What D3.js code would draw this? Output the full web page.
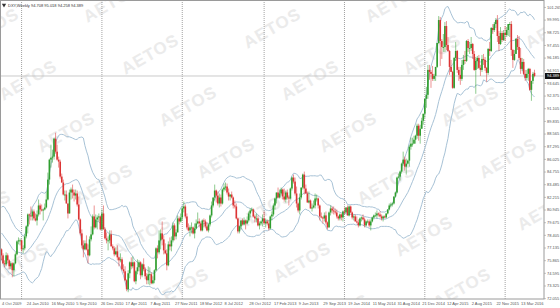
<!DOCTYPE html>
<html>
<head>
<meta charset="utf-8">
<script src="https://cdn.jsdelivr.net/npm/d3@7"></script>
<style>
  html, body { margin: 0; padding: 0; background: #fff; }
  svg { display: block; font-family: "Liberation Sans Narrow", "Liberation Sans", "DejaVu Sans", sans-serif; }
</style>
</head>
<body>
<div class="chart"></div>
<script>
// DATA ------------------------------

const symbolName = "DXY,Weekly"
const lastQuote = [94.708, 95.018, 94.258, 94.389]

// weekly bars [open, high, low, close], one array per year
// (warmup = weeks before the first visible bar, needed for the bands)
const warmup2009 = [
  [80.6,80.9,79.4,79.5],[79.5,80.4,78.3,80.2],[80.2,80.7,79.6,80.3],[80.3,80.9,79.7,80.2],
  [80.2,80.8,79.9,80.0],[80.0,80.6,79.6,80.4],[80.4,80.7,79.6,79.9],[79.9,80.2,78.9,79.1],
  [79.1,79.4,78.5,78.9],[78.9,79.5,78.4,78.8],[78.8,79.0,77.9,78.6],[78.6,79.2,78.2,78.5],
  [78.5,79.1,78.2,78.6],[78.6,78.9,77.9,78.2],[78.2,78.9,77.6,77.7],[77.7,77.8,76.9,77.0],
  [77.0,77.1,76.3,76.7],[76.7,77.4,76.1,76.9],[76.9,77.3,76.6,77.0]
]
const bars2009 = [
  [77.0,77.1,75.9,76.4],[76.4,76.6,75.5,75.6],[75.6,75.9,75.2,75.5],[75.5,76.7,75.3,76.4],
  [76.4,76.6,75.6,75.9],[75.9,76.0,75.0,75.3],[75.3,75.8,75.0,75.6],[75.6,75.7,74.2,74.9],
  [74.9,75.7,74.3,75.6],[75.6,76.7,75.5,76.5],[76.5,77.9,76.4,77.8],[77.8,78.2,77.5,77.9],
  [77.9,78.1,77.4,77.9]
]
const bars2010 = [
  [77.9,78.0,76.8,77.0],[77.0,77.4,76.6,77.1],[77.1,78.5,76.9,78.3],[78.3,79.4,78.1,79.3],
  [79.3,80.6,78.6,80.5],[80.5,80.6,79.5,80.4],[80.4,81.3,79.9,80.3],[80.3,81.0,79.9,80.8],
  [80.8,81.0,79.9,80.1],[80.1,80.6,79.8,79.9],[79.9,80.9,79.4,80.5],[80.5,82.0,80.3,81.4],
  [81.4,81.6,80.5,81.0],[81.0,81.5,80.8,80.9],[80.9,81.1,79.9,81.0],[81.0,81.6,80.9,81.2],
  [81.2,82.8,81.1,82.0],[82.0,84.7,81.9,84.0],[84.0,86.1,83.5,86.0],[86.0,87.5,85.2,86.2],
  [86.2,87.0,85.7,86.3],[86.3,88.2,86.0,88.1],[88.1,88.7,86.6,86.8],[86.8,87.5,85.9,86.0],
  [86.0,86.3,85.2,85.8],[85.8,86.0,84.1,84.3],[84.3,84.6,83.7,83.7],[83.7,84.0,82.4,82.5],
  [82.5,82.9,81.9,82.5],[82.5,82.9,81.6,81.6],[81.6,81.6,80.1,80.6],[80.6,83.0,80.6,82.7],
  [82.7,83.2,82.0,83.0],[83.0,83.5,82.1,82.7],[82.7,83.0,81.8,82.4],[82.4,83.0,82.0,82.6],
  [82.6,82.9,81.3,81.5],[81.5,82.3,79.9,80.0],[80.0,80.1,78.4,78.6],[78.6,79.0,77.1,77.4],
  [77.4,77.9,76.2,77.0],[77.0,77.9,76.9,77.6],[77.6,78.4,76.9,77.0],[77.0,77.5,75.6,76.4],
  [76.4,78.3,76.3,78.0],[78.0,79.3,77.8,78.5],[78.5,80.5,78.4,80.3],[80.3,81.4,79.0,79.2],
  [79.2,80.5,79.1,80.0],[80.0,80.4,79.0,80.2],[80.2,80.6,79.8,80.3],[80.3,80.4,78.9,79.0]
]
const bars2011 = [
  [79.0,81.0,78.9,80.6],[80.6,81.4,79.0,79.0],[79.0,79.2,78.0,78.1],[78.1,78.7,77.6,77.9],
  [77.9,78.3,76.9,77.9],[77.9,78.9,77.6,78.5],[78.5,78.9,77.3,77.3],[77.3,77.5,76.9,77.1],
  [77.1,77.3,76.3,76.5],[76.5,77.2,76.4,76.8],[76.8,77.4,75.9,76.2],[76.2,76.3,75.3,75.9],
  [75.9,76.6,75.7,76.0],[76.0,76.2,74.9,75.0],[75.0,75.5,74.6,74.8],[74.8,75.3,73.8,73.9],
  [73.9,74.0,72.8,73.0],[73.0,74.9,72.7,74.6],[74.6,75.8,74.1,75.7],[75.7,76.2,75.0,75.3],
  [75.3,76.3,75.1,75.7],[75.7,75.8,73.7,73.8],[73.8,74.9,73.5,74.8],[74.8,76.0,74.5,75.2],
  [75.2,75.9,74.8,75.7],[75.7,75.8,74.0,74.4],[74.4,75.6,74.2,75.5],[75.5,76.1,74.8,75.0],
  [75.0,75.2,74.0,74.3],[74.3,74.6,73.5,73.9],[73.9,75.3,73.5,74.5],[74.5,75.2,73.4,74.5],
  [74.5,74.7,73.5,73.6],[73.6,74.3,73.5,73.9],[73.9,75.0,73.6,74.9],[74.9,77.2,74.8,77.1],
  [77.1,77.4,76.1,76.7],[76.7,78.9,76.5,77.9],[77.9,79.0,77.0,78.6],[78.6,79.8,77.4,78.0],
  [78.0,78.4,76.5,76.9],[76.9,77.6,76.5,76.6],[76.6,77.0,74.9,75.4],[75.4,77.8,75.3,77.5],
  [77.5,78.2,76.9,77.3],[77.3,78.3,76.8,77.9],[77.9,79.7,77.7,79.4],[79.4,79.6,77.9,78.3],
  [78.3,79.0,78.0,78.7],[78.7,80.4,78.7,80.1],[80.1,80.3,79.5,79.8],[79.8,80.6,79.7,80.2]
]
const bars2012 = [
  [80.2,81.3,79.9,81.1],[81.1,81.8,80.7,81.3],[81.3,81.5,80.1,80.3],[80.3,80.6,79.0,79.2],
  [79.2,79.6,78.8,78.9],[78.9,79.4,78.3,79.2],[79.2,79.7,78.6,79.2],[79.2,79.3,78.5,78.6],
  [78.6,79.6,78.1,79.1],[79.1,80.0,79.0,79.6],[79.6,80.7,79.5,79.8],[79.8,80.1,79.2,79.6],
  [79.6,79.8,78.8,78.9],[78.9,80.0,78.8,79.9],[79.9,80.1,79.2,79.8],[79.8,80.0,79.1,79.3],
  [79.3,79.7,78.8,78.9],[78.9,79.6,78.7,79.5],[79.5,80.5,79.3,80.4],[80.4,81.8,80.2,81.4],
  [81.4,82.2,81.2,82.2],[82.2,83.5,81.9,82.9],[82.9,83.0,81.7,82.4],[82.4,82.8,81.4,81.6],
  [81.6,82.6,81.2,82.2],[82.2,82.5,81.3,81.6],[81.6,83.1,81.5,83.0],[83.0,83.6,82.8,83.2],
  [83.2,83.7,82.9,83.3],[83.3,83.6,82.5,82.7],[82.7,83.1,81.9,82.3],[82.3,82.5,81.9,82.5],
  [82.5,82.8,82.1,82.2],[82.2,82.3,81.1,81.4],[81.4,81.9,81.1,81.3],[81.3,81.6,80.0,80.1],
  [80.1,80.2,78.6,78.8],[78.8,79.4,78.6,79.3],[79.3,79.9,79.0,79.9],[79.9,80.1,79.4,79.5],
  [79.5,80.2,79.4,79.9],[79.9,80.0,79.0,79.6],[79.6,80.3,79.5,79.9],[79.9,80.8,79.7,80.6],
  [80.6,81.1,80.2,80.9],[80.9,81.2,80.8,81.0],[81.0,81.1,80.2,80.3],[80.3,80.4,79.7,80.1],
  [80.1,80.6,79.7,80.1],[80.1,80.4,79.3,79.4],[79.4,79.8,79.0,79.6],[79.6,79.9,79.4,79.8],
  [79.8,80.5,79.3,80.1]
]
const bars2013 = [
  [80.1,80.8,79.6,79.6],[79.6,80.1,79.2,79.8],[79.8,80.0,79.4,79.6],[79.6,79.9,78.9,79.1],
  [79.1,80.4,79.0,80.3],[80.3,80.8,79.9,80.5],[80.5,81.6,80.3,81.4],[81.4,82.2,81.0,82.1],
  [82.1,82.7,81.6,82.7],[82.7,83.2,82.1,82.2],[82.2,83.0,82.1,82.6],[82.6,83.2,82.4,83.0],
  [83.0,83.1,82.0,82.3],[82.3,83.1,81.8,82.0],[82.0,82.9,81.7,82.7],[82.7,83.0,82.0,82.2],
  [82.2,82.4,81.4,82.1],[82.1,83.2,82.0,83.1],[83.1,84.3,82.9,84.2],[84.2,84.5,83.6,83.8],
  [83.8,84.2,82.4,82.6],[82.6,83.3,81.2,81.6],[81.6,81.7,80.7,80.9],[80.9,82.6,80.5,82.2],
  [82.2,83.2,82.0,83.2],[83.2,84.6,83.0,84.5],[84.5,84.8,82.5,83.1],[83.1,83.5,82.6,82.6],
  [82.6,82.8,81.7,81.7],[81.7,82.8,81.6,81.9],[81.9,82.0,81.1,81.1],[81.1,81.6,80.8,81.2],
  [81.2,81.9,81.1,81.4],[81.4,82.6,81.1,82.1],[82.1,82.5,81.8,82.1],[82.1,82.2,81.1,81.4],
  [81.4,81.5,79.9,80.3],[80.3,80.7,80.1,80.2],[80.2,80.3,79.6,80.1],[80.1,80.7,79.8,80.4],
  [80.4,80.8,79.5,79.7],[79.7,79.8,79.0,79.2],[79.2,80.8,79.2,80.7],[80.7,81.4,80.4,81.1],
  [81.1,81.3,80.6,80.9],[80.9,81.3,80.5,80.8],[80.8,81.1,80.5,80.7],[80.7,81.0,80.1,80.3],
  [80.3,80.4,79.9,80.1],[80.1,80.6,79.9,80.5],[80.5,80.6,79.9,80.2],[80.2,80.9,79.8,80.8]
]
const bars2014 = [
  [80.8,81.2,80.5,80.7],[80.7,81.2,80.6,81.2],[81.2,81.4,80.4,80.4],[80.4,81.4,80.3,81.3],
  [81.3,81.4,80.6,80.7],[80.7,80.8,80.0,80.2],[80.2,80.5,79.9,80.3],[80.3,80.5,79.8,79.8],
  [79.8,80.3,79.6,79.7],[79.7,80.0,79.2,79.4],[79.4,80.2,79.3,80.1],[80.1,80.3,79.8,80.2],
  [80.2,80.5,79.9,80.0],[80.0,80.2,79.2,79.4],[79.4,79.9,79.3,79.8],[79.8,80.0,79.6,79.8],
  [79.8,80.0,79.2,79.4],[79.4,80.0,78.9,79.8],[79.8,80.3,79.7,80.2],[80.2,80.5,80.0,80.4],
  [80.4,80.7,80.3,80.4],[80.4,80.9,80.1,80.6],[80.6,80.7,80.3,80.5],[80.5,80.8,80.2,80.3],
  [80.3,80.5,79.9,80.1],[80.1,80.4,79.8,80.3],[80.3,80.4,80.1,80.2],[80.2,80.6,80.1,80.6],
  [80.6,81.0,80.5,81.0],[81.0,81.6,80.9,81.4],[81.4,81.7,81.2,81.5],[81.5,81.7,81.3,81.6],
  [81.6,82.3,81.5,82.3],[82.3,82.8,82.2,82.7],[82.7,84.3,82.6,84.2],[84.2,84.6,84.1,84.3],
  [84.3,84.9,83.9,84.8],[84.8,85.7,84.6,85.6],[85.6,86.8,85.4,86.0],[86.0,86.3,84.9,85.3],
  [85.3,86.1,84.5,85.6],[85.6,86.0,85.5,85.9],[85.9,87.5,85.3,87.3],[87.3,88.2,87.0,87.6],
  [87.6,88.2,87.3,87.6],[87.6,88.4,87.6,88.0],[88.0,88.5,87.6,88.4],[88.4,89.6,88.1,89.4],
  [89.4,89.6,87.9,88.4],[88.4,89.5,87.6,89.1],[89.1,90.2,89.1,89.9],[89.9,90.6,89.5,90.6]
]
const bars2015 = [
  [90.6,92.1,90.2,92.1],[92.1,93.3,91.2,92.5],[92.5,95.5,92.1,95.0],[95.0,95.5,94.0,94.8],
  [94.8,95.0,93.2,94.6],[94.6,95.4,93.9,94.1],[94.1,94.6,93.9,94.4],[94.4,95.3,93.9,95.3],
  [95.3,97.7,95.2,97.7],[97.7,100.4,97.6,100.0],[100.0,100.3,95.4,97.9],[97.9,98.1,96.1,97.3],
  [97.3,98.6,96.8,97.3],[97.3,99.8,96.8,99.4],[99.4,99.9,97.0,97.5],[97.5,98.3,96.8,96.9],
  [96.9,97.0,94.5,95.3],[95.3,96.0,94.8,94.8],[94.8,94.9,93.1,93.2],[93.2,96.3,93.1,96.2],
  [96.2,97.8,95.9,96.9],[96.9,97.0,94.7,95.0],[95.0,95.3,93.9,94.5],[94.5,95.3,93.5,94.1],
  [94.1,96.0,93.9,95.5],[95.5,96.5,95.0,96.0],[96.0,96.9,95.6,95.9],[95.9,98.0,95.8,97.9],
  [97.9,98.1,96.8,97.2],[97.2,97.8,96.6,97.2],[97.2,98.3,96.9,97.6],[97.6,97.7,96.1,96.6],
  [96.6,96.9,94.9,95.0],[95.0,96.3,92.6,95.9],[95.9,96.4,95.1,96.2],[96.2,96.5,95.1,95.2],
  [95.2,95.5,94.4,95.0],[95.0,96.5,94.8,96.1],[96.1,96.6,95.5,96.0],[96.0,96.3,94.9,95.2],
  [95.2,95.3,93.8,94.7],[94.7,97.2,94.5,97.1],[97.1,97.8,96.4,96.9],[96.9,99.3,96.8,99.2],
  [99.2,99.6,98.6,99.0],[99.0,99.8,98.8,99.6],[99.6,100.2,99.2,100.0],[100.0,100.5,97.8,98.4],
  [98.4,98.9,96.9,97.6],[97.6,99.3,97.5,98.7],[98.7,98.9,97.8,98.0],[98.0,99.0,97.9,98.7]
]
const bars2016 = [
  [98.7,99.4,97.9,98.5],[98.5,99.3,98.3,99.0],[99.0,99.6,98.4,99.6],[99.6,99.8,98.3,99.6],
  [99.6,99.9,96.4,97.0],[97.0,97.1,95.2,96.0],[96.0,97.0,95.9,96.6],[96.6,98.2,96.6,98.1],
  [98.1,98.5,97.0,97.3],[97.3,98.4,96.0,96.2],[96.2,97.2,94.6,95.1],[95.1,96.2,94.9,95.8],
  [95.8,96.1,94.5,94.6],[94.6,95.0,93.9,94.2],[94.2,95.0,94.0,94.6],[94.6,95.2,93.9,95.1],
  [95.1,95.2,92.9,93.0],[93.0,93.9,91.9,93.9],[93.9,94.8,93.6,94.6],lastQuote
]

// time axis labels, one every 16 weeks from the first visible bar
const xTickLabels = [
  "4 Oct 2009","24 Jan 2010","16 May 2010","5 Sep 2010","26 Dec 2010","17 Apr 2011",
  "7 Aug 2011","27 Nov 2011","18 Mar 2012","8 Jul 2012","28 Oct 2012","17 Feb 2013",
  "9 Jun 2013","29 Sep 2013","19 Jan 2014","11 May 2014","31 Aug 2014","21 Dec 2014",
  "12 Apr 2015","2 Aug 2015","22 Nov 2015","13 Mar 2016"
]
const xTickStep = 16

// price axis labels
const yTickValues = [
  72.055,73.325,74.595,75.865,77.135,78.405,79.675,80.945,82.215,83.485,84.755,86.025,
  87.295,88.565,89.835,91.105,92.375,93.645,94.915,96.185,97.455,98.725,99.995,101.265
]

const bandPeriod = 20
const bandDev = 2

// CHART INIT ------------------------------

const width = 560
const height = 308
const plot = {left: 0, top: 0, right: 544, bottom: 299}

const years = [bars2009, bars2010, bars2011, bars2012, bars2013, bars2014, bars2015, bars2016]
const visible = years.flat()
const all = warmup2009.concat(visible)
const offset = warmup2009.length

// bar objects, i = index of the visible week (warmup weeks are negative)
const bars = all.map((d, k) => ({i: k - offset, o: d[0], h: d[1], l: d[2], c: d[3]}))

// bollinger bands on close
const bands = []
for (let k = bandPeriod - 1; k < bars.length; k++) {
    const win = bars.slice(k - bandPeriod + 1, k + 1).map(d => d.c)
    const mean = d3.mean(win)
    const sd = Math.sqrt(d3.mean(win, v => (v - mean) * (v - mean)))
    bands.push({i: bars[k].i, mid: mean, up: mean + bandDev * sd, lo: mean - bandDev * sd})
}

// year separators: first week of every year array
const yearStarts = []
let acc = 0
years.forEach((y, n) => {
    if (n > 0) yearStarts.push(acc)
    acc += y.length
})

const xScale = d3.scaleLinear()
    .domain([0, visible.length - 1])
    .range([1.5, 534.5])

const yScale = d3.scaleLinear()
    .domain([72.021, 102.011])
    .range([plot.bottom, plot.top])

const svg = d3.select(".chart").append("svg")
    .attr("width", width)
    .attr("height", height)

svg.append("defs").append("clipPath")
    .attr("id", "plot-clip")
  .append("rect")
    .attr("x", plot.left)
    .attr("y", plot.top)
    .attr("width", plot.right - plot.left)
    .attr("height", plot.bottom - plot.top)

// watermark (clipped to the chart window like the original)
const wm = svg.append("g")
    .attr("class", "watermark")
    .attr("clip-path", "url(#plot-clip)")
for (let a = -2; a < 7; a++) {
    for (let b = -2; b < 8; b++) {
        const cx = 28 + a * 122 + b * 38
        const cy = 80 - a * 26 + b * 52
        if (cx < -40 || cx > 600 || cy < -30 || cy > 340) continue
        wm.append("text")
            .attr("transform", `translate(${cx},${cy}) rotate(-30)`)
            .attr("text-anchor", "middle")
            .attr("dy", "0.35em")
            .style("font-family", "'Liberation Sans', sans-serif")
            .style("font-size", "17px")
            .style("font-weight", "bold")
            .style("letter-spacing", "1px")
            .style("fill", "#ebebeb")
            .text("AETOS")
    }
}

const g = svg.append("g").attr("clip-path", "url(#plot-clip)")

// period separators
g.selectAll("line.sep")
    .data(yearStarts)
    .join("line")
        .attr("class", "sep")
        .attr("x1", d => xScale(d))
        .attr("x2", d => xScale(d))
        .attr("y1", plot.top)
        .attr("y2", plot.bottom)
        .attr("stroke", "#8a8a8a")
        .attr("stroke-width", 0.8)
        .attr("stroke-dasharray", "1,1")

// bid line
g.append("line")
    .attr("x1", plot.left)
    .attr("x2", plot.right)
    .attr("y1", yScale(lastQuote[3]))
    .attr("y2", yScale(lastQuote[3]))
    .attr("stroke", "#bdbdbd")
    .attr("stroke-width", 0.8)

// bands
const bandColor = "#a7c2d6"
;["up", "mid", "lo"].forEach(key => {
    g.append("path")
        .datum(bands)
        .attr("fill", "none")
        .attr("stroke", bandColor)
        .attr("stroke-width", 1)
        .attr("d", d3.line().x(d => xScale(d.i)).y(d => yScale(d[key])))
})

// candles
const upColor = "#2f9e2f"
const downColor = "#dc3434"
const colorOf = d => d.c >= d.o ? upColor : downColor

g.selectAll("line.wick")
    .data(bars)
    .join("line")
        .attr("class", "wick")
        .attr("x1", d => xScale(d.i))
        .attr("x2", d => xScale(d.i))
        .attr("y1", d => yScale(d.h))
        .attr("y2", d => yScale(d.l))
        .attr("stroke", colorOf)
        .attr("stroke-opacity", 0.6)
        .attr("stroke-width", 0.9)

g.selectAll("rect.body")
    .data(bars)
    .join("rect")
        .attr("class", "body")
        .attr("x", d => xScale(d.i) - 0.8)
        .attr("width", 1.6)
        .attr("y", d => yScale(Math.max(d.o, d.c)))
        .attr("height", d => Math.max(0.9, Math.abs(yScale(d.o) - yScale(d.c))))
        .attr("fill", colorOf)

// frame
svg.append("rect")
    .attr("x", plot.left + 0.5)
    .attr("y", plot.top + 0.5)
    .attr("width", plot.right - plot.left - 0.5)
    .attr("height", plot.bottom - plot.top - 0.5)
    .attr("fill", "none")
    .attr("stroke", "#9a9a9a")
    .attr("stroke-width", 1)

// AXES ------------------------------

const axisFont = "4px"

svg.selectAll("text.ylab")
    .data(yTickValues)
    .join("text")
        .attr("class", "ylab")
        .attr("x", plot.right + 3)
        .attr("y", d => yScale(d))
        .attr("dy", "0.35em")
        .style("font-size", axisFont)
        .style("fill", "#555")
        .text(d => d.toFixed(3))

svg.selectAll("line.ytick")
    .data(yTickValues)
    .join("line")
        .attr("class", "ytick")
        .attr("x1", plot.right)
        .attr("x2", plot.right + 2)
        .attr("y1", d => yScale(d))
        .attr("y2", d => yScale(d))
        .attr("stroke", "#9a9a9a")
        .attr("stroke-width", 0.6)

svg.selectAll("text.xlab")
    .data(xTickLabels)
    .join("text")
        .attr("class", "xlab")
        .attr("x", (d, n) => xScale(n * xTickStep) + 0.5)
        .attr("y", plot.bottom + 5.5)
        .style("font-size", axisFont)
        .style("fill", "#555")
        .text(d => d)

// current price tag
const tagY = yScale(lastQuote[3])
svg.append("rect")
    .attr("x", plot.right + 1)
    .attr("y", tagY - 3)
    .attr("width", width - plot.right - 1)
    .attr("height", 6)
    .attr("fill", "#111")
svg.append("text")
    .attr("x", plot.right + 3)
    .attr("y", tagY)
    .attr("dy", "0.35em")
    .style("font-size", axisFont)
    .style("fill", "#fff")
    .text(lastQuote[3].toFixed(3))

// legend
svg.append("path")
    .attr("d", d3.symbol(d3.symbolTriangle, 8)())
    .attr("transform", "translate(4,5) rotate(180)")
    .attr("fill", "#333")
svg.append("text")
    .attr("x", 8)
    .attr("y", 6.5)
    .style("font-size", axisFont)
    .style("fill", "#333")
    .text(`${symbolName}  ${lastQuote.map(v => v.toFixed(3)).join(" ")}`)
</script>
</body>
</html>
